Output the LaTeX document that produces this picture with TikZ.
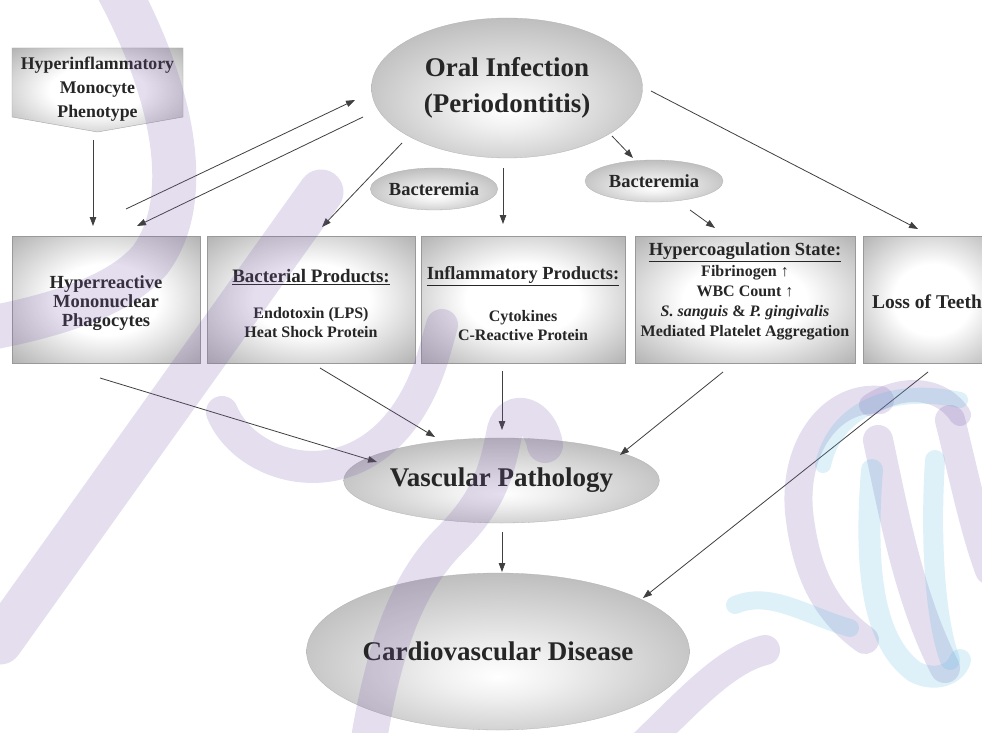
\documentclass[tikz,border=0pt]{standalone}
\usepackage{fontspec}
\setmainfont{Liberation Serif}
\usetikzlibrary{arrows.meta,calc,shapes.geometric}
\pgfdeclareradialshading{boxshade}{\pgfpoint{0bp}{0bp}}{color(0bp)=(white); color(14bp)=(white); color(44bp)=(black!42); color(50bp)=(black!50)}
\pgfdeclareradialshading{ellshade}{\pgfpoint{0bp}{-8bp}}{color(0bp)=(white); color(8bp)=(black!6); color(46bp)=(black!42); color(50bp)=(black!50)}
\definecolor{wmp}{RGB}{120,90,170}
\definecolor{wmcyan}{RGB}{90,185,225}
\begin{document}
\begin{tikzpicture}[x=1pt,y=-1pt,
  txt/.style={font=\bfseries, text=black!85, align=center, inner sep=0pt},
  boxn/.style={rectangle, shade, shading=boxshade, draw=black!40, line width=0.4pt, inner sep=0pt, minimum height=127pt},
  elln/.style={ellipse, shade, shading=ellshade, draw=black!30, line width=0.3pt, inner sep=0pt, text=black!85, align=center},
  arr/.style={draw=black!75, line width=0.8pt, -{Triangle[length=9pt,width=6.5pt]}},
  wm/.style={draw=wmp, draw opacity=0.2, line cap=round},
  wmcy/.style={draw=wmcyan, draw opacity=0.2, line cap=round}]
\useasboundingbox (0,0) rectangle (982,733);
\fill[white] (0,0) rectangle (982,733);

% top left pentagon
\path[shade, shading=boxshade, draw=black!35, line width=0.4pt] (12,48) -- (183,48) -- (183,117) -- (97.5,132) -- (12,117) -- cycle;
\node[txt, font=\fontsize{17.8}{24}\selectfont\bfseries] (hyp) at (97.5,89) {Hyperinflammatory\\Monocyte\\Phenotype};

% ellipses
\node[elln, minimum width=271pt, minimum height=140pt, font=\fontsize{27}{36}\selectfont\bfseries] (oral) at (507,88) {Oral Infection\\(Periodontitis)};
\node[elln, minimum width=124pt, minimum height=42pt, font=\fontsize{18.5}{20}\selectfont\bfseries] (bact1) at (434,189) {Bacteremia};
\node[elln, minimum width=138pt, minimum height=42pt, font=\fontsize{18.5}{20}\selectfont\bfseries] (bact2) at (654,181) {Bacteremia};
\node[elln, minimum width=247pt, minimum height=85pt, font=\fontsize{27}{30}\selectfont\bfseries] (vasc) at (501.5,480.5) {Vascular Pathology};
\node[elln, minimum width=320pt, minimum height=157pt, font=\fontsize{27}{30}\selectfont\bfseries] (cvd) at (498,651.5) {Cardiovascular Disease};

% boxes
\node[boxn, minimum width=188pt] (box1) at (106,299.5) {};
\node[boxn, minimum width=208pt] (box2) at (311,299.5) {};
\node[boxn, minimum width=204pt] (box3) at (523,299.5) {};
\node[boxn, minimum width=220pt] (box4) at (745,299.5) {};
\node[boxn, minimum width=139pt] (box5) at (932.5,299.5) {};

\node[txt, font=\fontsize{18.5}{19}\selectfont\bfseries] (t1) at (106,303) {Hyperreactive\\Mononuclear\\Phagocytes};
\node[txt, font=\fontsize{19}{21}\selectfont\bfseries] (t2h) at (311,277) {\underline{Bacterial Products:}};
\node[txt, font=\fontsize{16}{19}\selectfont\bfseries] (t2b) at (311,322.5) {Endotoxin (LPS)\\Heat Shock Protein};
\node[txt, font=\fontsize{18.5}{21}\selectfont\bfseries] (t3h) at (523,276) {\underline{Inflammatory Products:}};
\node[txt, font=\fontsize{16}{19}\selectfont\bfseries] (t3b) at (523,325.5) {Cytokines\\C-Reactive Protein};
\node[txt, font=\fontsize{18.5}{21}\selectfont\bfseries] (t4h) at (745,252) {\underline{Hypercoagulation State:}};
\node[txt, font=\fontsize{16}{20}\selectfont\bfseries] (t4b) at (745,303) {Fibrinogen ↑\\WBC Count ↑\\\textit{S. sanguis} \& \textit{P. gingivalis}\\Mediated Platelet Aggregation};
\node[txt, font=\fontsize{19.5}{21}\selectfont\bfseries] (t5) at (927,302) {Loss of Teeth};

% arrows
\draw[arr] ($(hyp)+(-4.5,51)$) -- ($(box1)+(-13,-73.5)$);
\draw[arr] ($(box1)+(20,-90.5)$) -- ($(oral)+(-152,12)$);
\draw[arr] ($(oral)+(-144,29)$) -- ($(box1)+(31,-73.5)$);
\draw[arr] ($(oral)+(-105,55)$) -- ($(box2)+(11,-72.5)$);
\draw[arr] ($(oral)+(-4,80)$) -- ($(box3)+(-20,-75.5)$);
\draw[arr] ($(oral)+(105,48)$) -- ($(bact2)+(-21,-23)$);
\draw[arr] ($(bact2)+(36,29)$) -- ($(box4)+(-30,-71.5)$);
\draw[arr] ($(oral)+(144,3)$) -- ($(box5)+(-14.5,-70.5)$);
\draw[arr] ($(box1)+(-6,78.5)$) -- ($(vasc)+(-124.5,-18.5)$);
\draw[arr] ($(box2)+(9,68.5)$) -- ($(vasc)+(-66.5,-43.5)$);
\draw[arr] ($(box3)+(-21,71.5)$) -- ($(vasc)+(0.5,-50.5)$);
\draw[arr] ($(box4)+(-22,72.5)$) -- ($(vasc)+(118.5,-25.5)$);
\draw[arr] ($(vasc)+(0.5,51.5)$) -- ($(cvd)+(4,-79.5)$);
\draw[arr] ($(box5)+(-4.5,72.5)$) -- ($(cvd)+(145,-53.5)$);

% watermark
\draw[wm, line width=44pt] (110,-25) .. controls (175,90) and (195,200) .. (150,260) .. controls (120,295) and (60,315) .. (-20,330);
\draw[wm, line width=45pt] (321,192) -- (0,642);
\draw[wm, line width=32pt] (222,412) .. controls (250,480) and (390,510) .. (435,350) -- (442,325);
\draw[wm, line width=36pt] (545,445) .. controls (540,415) and (512,405) .. (505,430) .. controls (497,470) and (490,500) .. (450,540) .. controls (410,580) and (385,640) .. (368,745);
\draw[wm, line width=30pt] (640,748) .. controls (690,700) and (725,660) .. (765,650);
\draw[wm, line width=28pt] (880,400) .. controls (830,395) and (790,450) .. (800,520) .. controls (808,580) and (830,615) .. (865,640);
\draw[wm, line width=30pt] (878,440) .. controls (895,520) and (910,600) .. (945,668);
\draw[wm, line width=30pt] (950,420) .. controls (965,480) and (975,530) .. (990,570);
\draw[wm, line width=22pt] (870,405) .. controls (900,385) and (940,385) .. (960,415);
\draw[wmcy, line width=16pt] (823,465) .. controls (835,410) and (890,385) .. (960,400);
\draw[wmcy, line width=22pt] (872,470) .. controls (865,560) and (870,640) .. (915,672) .. controls (935,682) and (955,675) .. (960,660);
\draw[wmcy, line width=20pt] (935,460) .. controls (930,540) and (935,620) .. (950,660);
\draw[wmcy, line width=18pt] (735,605) .. controls (770,590) and (805,615) .. (850,628);
\end{tikzpicture}
\end{document}
